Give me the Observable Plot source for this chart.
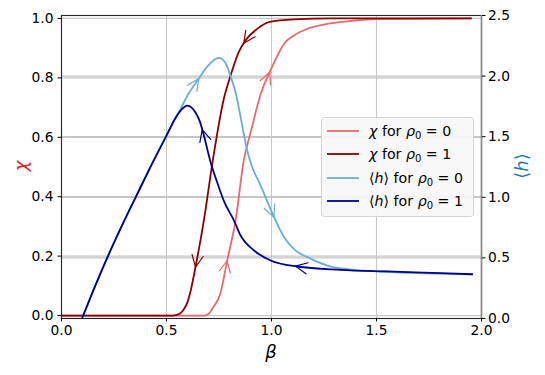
<!DOCTYPE html>
<html><head><meta charset="utf-8">
<script src="https://cdn.jsdelivr.net/npm/d3@7"></script>
<script src="https://cdn.jsdelivr.net/npm/@observablehq/plot@0.6"></script>
<style>body{margin:0;background:#fff} #chart{width:545px;height:375px}</style>
</head><body><div id="chart"></div><script>
// ---- data ----
const chi0Beta = [0, 0.4, 0.68, 0.70, 0.72, 0.757, 0.789, 0.829, 0.868, 0.9, 0.925, 0.948, 0.995, 1.028, 1.06, 1.107, 1.17, 1.266, 1.36, 1.5, 1.95];
const chi0     = [0, 0, 0, 0.005, 0.025, 0.075, 0.185, 0.32, 0.522, 0.615, 0.685, 0.745, 0.825, 0.875, 0.915, 0.943, 0.965, 0.982, 0.99, 0.998, 1];
const chi1Beta = [0, 0.3, 0.53, 0.56, 0.582, 0.6, 0.614, 0.638, 0.678, 0.72, 0.773, 0.805, 0.844, 0.876, 0.932, 0.987, 1.106, 1.3, 1.95];
const chi1     = [0, 0, 0, 0.005, 0.02, 0.045, 0.08, 0.163, 0.32, 0.52, 0.73, 0.808, 0.887, 0.926, 0.965, 0.988, 0.997, 1, 1];
const h0Beta = [0.1, 0.163, 0.226, 0.29, 0.353, 0.425, 0.496, 0.543, 0.567, 0.6, 0.654, 0.7, 0.749, 0.78, 0.805, 0.83, 0.852, 0.884, 0.9, 0.95, 1.012, 1.06, 1.115, 1.171, 1.266, 1.378, 1.5, 1.7, 1.956];
const h0     = [0.01, 0.28, 0.534, 0.775, 1.0, 1.255, 1.496, 1.655, 1.73, 1.84, 1.98, 2.09, 2.15, 2.11, 2.00, 1.86, 1.67, 1.39, 1.29, 1.09, 0.836, 0.67, 0.56, 0.506, 0.437, 0.404, 0.39, 0.375, 0.365];
const h1Beta = [0.1, 0.163, 0.226, 0.29, 0.353, 0.425, 0.496, 0.543, 0.567, 0.585, 0.599, 0.62, 0.638, 0.66, 0.678, 0.71, 0.74, 0.773, 0.821, 0.853, 0.917, 0.996, 1.123, 1.33, 1.55, 1.807, 1.956];
const h1     = [0.01, 0.28, 0.534, 0.775, 1.0, 1.255, 1.496, 1.655, 1.715, 1.745, 1.757, 1.74, 1.70, 1.62, 1.51, 1.29, 1.13, 0.97, 0.81, 0.685, 0.561, 0.479, 0.429, 0.402, 0.388, 0.374, 0.365];
// arrow positions (beta of arrow tip) along each curve
const arrowsChi0 = [0.789, 0.992];
const arrowsChi1 = [0.638, 0.868];
const arrowsH0 = [0.654, 1.012];
const arrowsH1 = [0.67, 1.114];
// ticks
const xTicks = [0, 0.5, 1, 1.5, 2];
const chiTicks = [0, 0.2, 0.4, 0.6, 0.8, 1];
const hTicks = [0, 0.5, 1, 1.5, 2, 2.5];
// legend
const legendSymbols = ["χ", "χ", "h", "h"];
const legendRho = ["0", "1", "0", "1"];

// ---- config ----
const chiDomain = [-0.01, 1.01];
const hDomain = [0, 2.5];
const hToChi = h => chiDomain[0] + (h - hDomain[0]) / (hDomain[1] - hDomain[0]) * (chiDomain[1] - chiDomain[0]);
const chiToH = c => hDomain[0] + (c - chiDomain[0]) / (chiDomain[1] - chiDomain[0]) * (hDomain[1] - hDomain[0]);

const series = [
  {beta: chi0Beta, val: chi0, axis: "chi", color: "#e8696e", dir: 1, arrows: arrowsChi0},
  {beta: chi1Beta, val: chi1, axis: "chi", color: "#8b0000", dir: -1, arrows: arrowsChi1},
  {beta: h0Beta, val: h0, axis: "h", color: "#6aaed6", dir: 1, arrows: arrowsH0},
  {beta: h1Beta, val: h1, axis: "h", color: "#00008b", dir: -1, arrows: arrowsH1}
];
series.forEach(s => {
  s.rows = s.beta.map((b, i) => ({beta: b, y: s.axis === "chi" ? s.val[i] : hToChi(s.val[i])}));
});
function interp(xs, ys, x) {
  for (let i = 1; i < xs.length; i++) {
    if (x <= xs[i]) { const t = (x - xs[i-1]) / (xs[i] - xs[i-1]); return ys[i-1] + t * (ys[i] - ys[i-1]); }
  }
  return ys[ys.length - 1];
}

const base = {
  width: 545, height: 375,
  marginLeft: 61, marginRight: 64, marginTop: 15, marginBottom: 57,
  x: {domain: [0, 2]},
  y: {domain: chiDomain},
  style: {fontFamily: "DejaVu Sans", fontSize: "13.8px", background: "white", color: "black"}
};
const lineMarks = series.map(s => Plot.line(s.rows, {x: "beta", y: "y", stroke: s.color, strokeWidth: 1.8, curve: "monotone-x"}));
const probe = Plot.plot({...base, marks: lineMarks});
const sx = probe.scale("x"), sy = probe.scale("y");

// chevron arrowheads computed from the data curves
const A = 5.6, B = 11.8;
const arrowMarks = series.map((s, si) => {
  const ys = s.rows.map(r => r.y);
  const pts = [];
  s.arrows.forEach((b, k) => {
    const bt = b - s.dir * 0.012;
    const tx = sx.apply(b), ty = sy.apply(interp(s.beta, ys, b));
    const px = sx.apply(bt), py = sy.apply(interp(s.beta, ys, bt));
    let ux = tx - px, uy = ty - py; const L = Math.hypot(ux, uy); ux /= L; uy /= L;
    const nx = -uy, ny = ux;
    const w1 = [tx - B*ux + A*nx, ty - B*uy + A*ny];
    const w2 = [tx - B*ux - A*nx, ty - B*uy - A*ny];
    [w1, [tx, ty], w2].forEach(p => pts.push({id: k, x: sx.invert(p[0]), y: sy.invert(p[1])}));
  });
  return Plot.line(pts, {x: "x", y: "y", z: "id", stroke: s.color, strokeWidth: 1.2, curve: "linear"});
});

const chart = Plot.plot({
  ...base,
  marks: [
    Plot.ruleX(xTicks, {stroke: "#c8c8c8", strokeWidth: 1.1}),
    Plot.ruleY(chiTicks, {stroke: "#c6c6c6", strokeWidth: 1.2}),
    Plot.ruleY(hTicks.map(hToChi), {stroke: "#c6c6c6", strokeWidth: 1.2}),
    ...lineMarks,
    ...arrowMarks,
    Plot.frame({stroke: "#262626", strokeWidth: 1.1}),
    Plot.ruleX([2], {stroke: "#8a8a8a", strokeWidth: 1.6}),
    Plot.axisX(xTicks, {tickSize: 3.5, tickPadding: 3, tickFormat: d => d.toFixed(1), label: null}),
    Plot.axisY(chiTicks, {anchor: "left", tickSize: 3.5, tickPadding: 4.5, tickFormat: d => d.toFixed(1), label: null}),
    Plot.axisY(hTicks.map(hToChi), {anchor: "right", tickSize: 3.5, tickPadding: 3, tickFormat: d => chiToH(d).toFixed(1), label: null})
  ]
});
document.getElementById("chart").appendChild(chart);

// axis titles and legend
const svg = d3.select(chart);
svg.append("text").attr("transform", "translate(20,166) rotate(-90)").attr("text-anchor", "middle")
  .attr("dominant-baseline", "central").attr("font-size", 18).attr("font-style", "italic").attr("fill", "#d62728").text("χ");
const ht = svg.append("text").attr("transform", "translate(521,166) rotate(-90)").attr("text-anchor", "middle")
  .attr("dominant-baseline", "central").attr("font-size", 18).attr("fill", "#1f77b4");
ht.append("tspan").text("⟨"); ht.append("tspan").attr("font-style", "italic").text("h"); ht.append("tspan").text("⟩");
svg.append("text").attr("x", 271).attr("y", 358).attr("text-anchor", "middle").attr("font-size", 18)
  .attr("font-style", "italic").text("β");

const lg = svg.append("g");
lg.append("rect").attr("x", 321.5).attr("y", 117.5).attr("width", 152).attr("height", 99).attr("rx", 3)
  .attr("fill", "#f7f7f7").attr("fill-opacity", 0.92).attr("stroke", "#d4d4d4");
const rowsY = [131, 154, 178, 201];
series.forEach((s, i) => {
  const cy = rowsY[i];
  lg.append("line").attr("x1", 327).attr("x2", 359).attr("y1", cy).attr("y2", cy).attr("stroke", s.color).attr("stroke-width", 1.8);
  const t = lg.append("text").attr("x", 369).attr("y", cy + 5).attr("font-size", 14.2)
    .attr("text-anchor", "start").style("white-space", "pre");
  if (legendSymbols[i] === "χ") t.append("tspan").attr("font-style", "italic").text("χ");
  else { t.append("tspan").text("⟨"); t.append("tspan").attr("font-style", "italic").text("h"); t.append("tspan").text("⟩"); }
  t.append("tspan").text(" for ");
  t.append("tspan").attr("font-style", "italic").text("ρ");
  t.append("tspan").attr("font-size", 10).attr("dy", 3).text("0");
  t.append("tspan").attr("dy", -3).text(" = " + legendRho[i]);
});
</script></body></html>
